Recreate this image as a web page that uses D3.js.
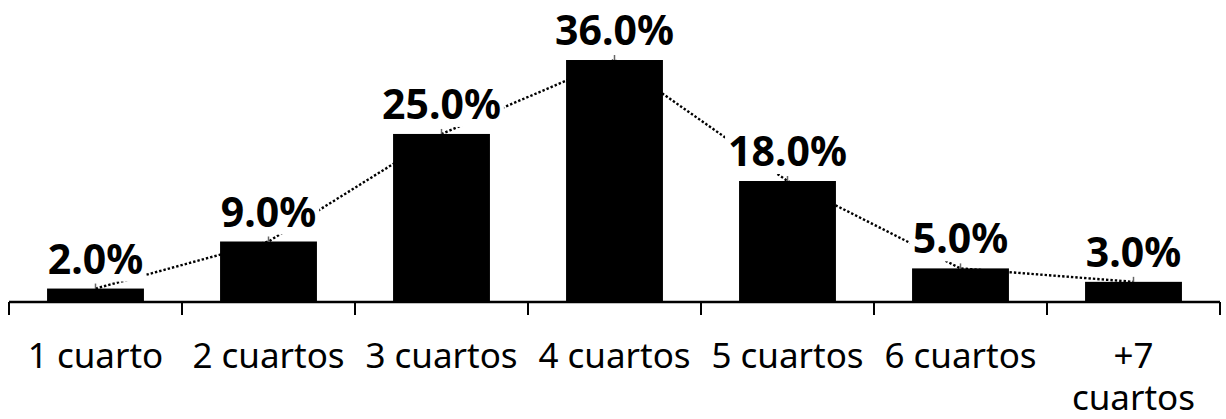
<!DOCTYPE html>
<html>
<head>
<meta charset="utf-8">
<script src="https://cdn.jsdelivr.net/npm/d3@7"></script>
<style>
  html, body { margin: 0; padding: 0; background: #fff; }
  svg { display: block; }
</style>
</head>
<body>
<svg id="chart" width="1226" height="419"></svg>
<script>
const categories = ["1 cuarto", "2 cuartos", "3 cuartos", "4 cuartos", "5 cuartos", "6 cuartos", "+7 cuartos"];
const values = [2.0, 9.0, 25.0, 36.0, 18.0, 5.0, 3.0];
const valueLabels = ["2.0%", "9.0%", "25.0%", "36.0%", "18.0%", "5.0%", "3.0%"];

const svg = d3.select("#chart");
const left = 9, right = 1220, baseY = 302;

const x = d3.scaleBand().domain(categories).range([left, right]).paddingInner(0.44).paddingOuter(0.22);
const xEdge = d3.scaleBand().domain(categories).range([left, right]).padding(0);
const y = d3.scaleLinear().domain([0, 40]).range([baseY, baseY - 6.722 * 40]);

const data = categories.map((c, i) => ({ c, v: values[i], lab: valueLabels[i] }));
const cx = d => x(d.c) + x.bandwidth() / 2;

// dotted trend line (behind bars)
const line = d3.line().x(cx).y(d => y(d.v));
svg.append("path")
  .datum(data)
  .attr("d", line)
  .attr("fill", "none")
  .attr("stroke", "#000")
  .attr("stroke-width", 2.4)
  .attr("stroke-dasharray", "2.4,2");

// small markers at points
svg.append("g").selectAll("line").data(data).join("line")
  .attr("x1", cx).attr("x2", cx)
  .attr("y1", d => y(d.v) - 5).attr("y2", d => y(d.v))
  .attr("stroke", "#666").attr("stroke-width", 1.5);

// bars
svg.append("g").selectAll("rect").data(data).join("rect")
  .attr("x", d => x(d.c))
  .attr("width", x.bandwidth())
  .attr("y", d => y(d.v))
  .attr("height", d => baseY - y(d.v))
  .attr("fill", "#000");

// value labels with white background
const lg = svg.append("g");
data.forEach(d => {
  const g = lg.append("g");
  const rect = g.append("rect").attr("fill", "#fff");
  const t = g.append("text")
    .attr("x", cx(d))
    .attr("y", y(d.v) - 15)
    .attr("text-anchor", "middle")
    .attr("font-family", "'Noto Sans', sans-serif")
    .attr("font-weight", "bold")
    .attr("font-size", 41)
    .attr("fill", "#000")
    .text(d.lab);
  const bb = t.node().getBBox();
  rect.attr("x", bb.x - 3).attr("width", bb.width + 6)
    .attr("y", y(d.v) - 15 - 35).attr("height", 43);
});

// axis
const axis = d3.axisBottom(xEdge).tickSize(0).tickFormat("");
const ag = svg.append("g").attr("transform", `translate(0,${baseY})`).call(axis);
ag.select(".domain").attr("stroke", "#000").attr("stroke-width", 2.3).attr("d", `M${left},0H${right}`);
const edges = categories.map(c => xEdge(c)).concat([right]);
ag.selectAll(".edge").data(edges).join("line")
  .attr("class", "edge")
  .attr("x1", d => d).attr("x2", d => d)
  .attr("y1", 0).attr("y2", 13)
  .attr("stroke", "#000").attr("stroke-width", 2);

// category labels (wrapped)
const cg = svg.append("g");
categories.forEach(c => {
  const t = cg.append("text")
    .attr("x", xEdge(c) + xEdge.bandwidth() / 2)
    .attr("y", 368)
    .attr("text-anchor", "middle")
    .attr("font-family", "'Noto Sans', sans-serif")
    .attr("font-size", 35)
    .attr("fill", "#000")
    .text(c);
  if (t.node().getComputedTextLength() > xEdge.bandwidth() - 10) {
    const words = c.split(" ");
    t.text(null);
    words.forEach((w, i) => {
      t.append("tspan")
        .attr("x", xEdge(c) + xEdge.bandwidth() / 2)
        .attr("dy", i === 0 ? 0 : 42)
        .text(w);
    });
  }
});
</script>
</body>
</html>
